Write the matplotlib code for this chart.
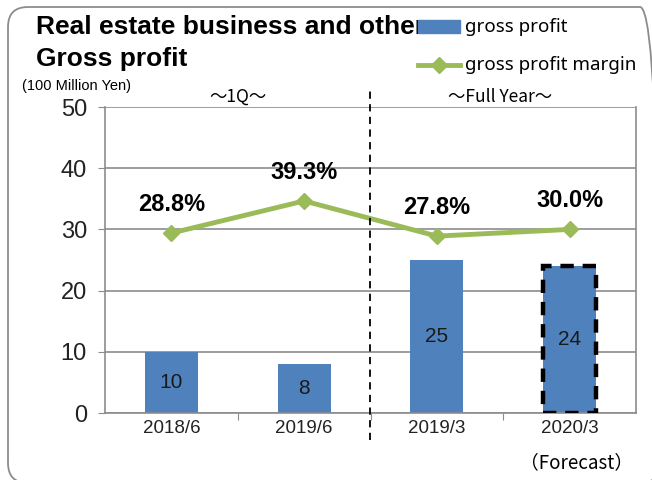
import matplotlib.pyplot as plt
from matplotlib.patches import FancyBboxPatch, Rectangle
from matplotlib.lines import Line2D
from matplotlib.transforms import IdentityTransform

# ---------------- DATA ----------------
periods = ["2018/6", "2019/6", "2019/3", "2020/3"]
gross_profit = [10, 8, 25, 24]
margin = [28.8, 39.3, 27.8, 30.0]
margin_labels = ["28.8%", "39.3%", "27.8%", "30.0%"]

bar_color = "#4F81BD"
line_color = "#9BBB59"
grid_color = "#8C8C8C"
thin_font = "Liberation Sans"

fig = plt.figure(figsize=(6.52, 4.8), dpi=100)

# rounded outer frame (pixel coords, origin bottom-left)
frame = FancyBboxPatch((8, -3), 652, 476,
                       boxstyle="round,pad=0,rounding_size=20",
                       transform=IdentityTransform(), fill=False,
                       edgecolor="#8C8C8C", linewidth=1.3)
fig.patches.append(frame)

ax = fig.add_axes([105 / 652, 1 - 413 / 480, 531 / 652, 306 / 480])
x = list(range(len(periods)))

# ---------------- BARS ----------------
bars = ax.bar(x, gross_profit, width=0.4, color=bar_color, zorder=2)
# forecast bar gets a dashed outline
fc = bars[3]
ax.add_patch(Rectangle((fc.get_x(), fc.get_y()), fc.get_width(), fc.get_height(),
                       fill=False, edgecolor="black", linewidth=3.2,
                       linestyle=(0, (3, 2)), zorder=3))

for xi, v in zip(x, gross_profit):
    ax.text(xi, v / 2, str(v), ha="center", va="center", fontsize=15,
            family=thin_font, color="#1a1a1a", zorder=4)

ax.set_xlim(-0.5, 3.5)
ax.set_ylim(0, 50)
ax.set_yticks(range(0, 51, 10))
ax.set_yticklabels([str(v) for v in range(0, 51, 10)], fontsize=17,
                   family=thin_font, color="#222222")
ax.set_xticks([0.5, 1.5, 2.5], minor=False)
ax.set_xticklabels([])
ax.set_xticks(x, minor=True)
ax.set_xticklabels(periods, minor=True, fontsize=13.5, family=thin_font,
                   color="#222222")
ax.tick_params(axis="x", which="major", length=5, color=grid_color, direction="out")
ax.tick_params(axis="x", which="minor", length=0, pad=5)
ax.tick_params(axis="y", length=5, color=grid_color, pad=8)
ax.grid(axis="y", color=grid_color, linewidth=1.2, zorder=0)
ax.set_axisbelow(True)
for s in ["left", "bottom", "right"]:
    ax.spines[s].set_color(grid_color)
    ax.spines[s].set_linewidth(1.2)
ax.spines["top"].set_visible(False)

# ---------------- MARGIN LINE ----------------
ax2 = ax.twinx()
ax2.set_ylim(-30, 70)
ax2.plot(x, margin, color=line_color, linewidth=3.5, marker="D", markersize=8,
         zorder=5)
ax2.set_yticks([])
for s in ax2.spines.values():
    s.set_visible(False)
for xi, v, lab in zip(x, margin, margin_labels):
    ax2.text(xi, v + 9.4, lab, ha="center", va="center", fontsize=17,
             family=thin_font, fontweight="bold", color="black")

# divider between 1Q and full year
fig.add_artist(Line2D([370 / 652, 370 / 652], [1 - 440 / 480, 1 - 88 / 480],
                      color="black", linewidth=1.3, linestyle=(0, (4, 3))))

# ---------------- TEXTS ----------------
fig.text(36 / 652, 1 - 27 / 480, "Real estate business and other",
         fontsize=19, fontweight="bold", family="Liberation Sans", va="center")
fig.text(36 / 652, 1 - 59 / 480, "Gross profit",
         fontsize=19, fontweight="bold", family="Liberation Sans", va="center")
fig.text(22 / 652, 1 - 86 / 480, "(100 Million Yen)", fontsize=10.5,
         family="Liberation Sans", va="center")
fig.text(238 / 652, 1 - 97 / 480, "～1Q～", fontsize=12.5,
         family=["Noto Sans CJK JP", "DejaVu Sans"], ha="center", va="center")
fig.text(500 / 652, 1 - 97 / 480, "～Full Year～", fontsize=12.5,
         family=["Noto Sans CJK JP", "DejaVu Sans"], ha="center", va="center")
fig.text(577 / 652, 1 - 463 / 480, "（Forecast）", fontsize=13.5,
         family=["Noto Sans CJK JP", "DejaVu Sans"], ha="center", va="center")

# legend drawn by hand, on top of the title
fig.add_artist(Rectangle((418 / 652, 1 - 33 / 480), 42 / 652, 13 / 480,
                         transform=fig.transFigure, color=bar_color, zorder=10))
fig.text(465 / 652, 1 - 27 / 480, "gross profit", fontsize=13.5,
         family="Noto Sans", va="center")
fig.add_artist(Line2D([418 / 652, 460 / 652], [1 - 65 / 480, 1 - 65 / 480],
                      color=line_color, linewidth=3.5, zorder=10))
fig.add_artist(Line2D([439 / 652], [1 - 65 / 480], color=line_color,
                      marker="D", markersize=8, zorder=10))
fig.text(465 / 652, 1 - 65 / 480, "gross profit margin", fontsize=13.5,
         family="Noto Sans", va="center")

fig.savefig("out.png", dpi=100)
